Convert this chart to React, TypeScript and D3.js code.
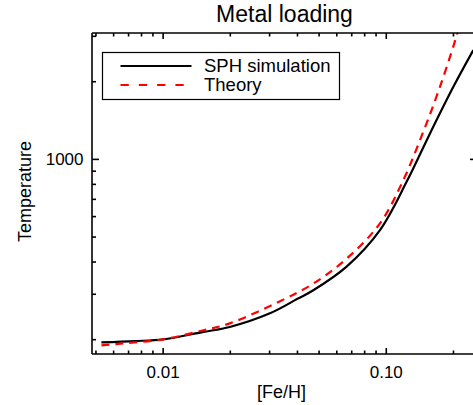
import React from "react";
import * as d3 from "d3";

// [Fe/H] and temperature
const feHSph = [0.00529, 0.0075, 0.01, 0.015, 0.0199, 0.0301, 0.04, 0.0471, 0.0664, 0.0937, 0.1235, 0.157, 0.1998, 0.2455];
const tempSph = [195.3, 197.5, 200.6, 214, 224, 253, 288, 311, 384, 532, 820, 1261, 1912, 2653];

const feHTheory = [0.00529, 0.00662, 0.01, 0.015, 0.0199, 0.0334, 0.0471, 0.0664, 0.0937, 0.1192, 0.146, 0.174, 0.207, 0.212];
const tempTheory = [190.1, 193.6, 200.6, 217, 231.3, 282, 330, 412, 565, 831, 1270, 1912, 3033, 3300];

const xMajorTicks = [0.01, 0.1];
const xMajorLabels = ["0.01", "0.10"];
const xMinorTicks = [0.005, 0.006, 0.007, 0.008, 0.009, 0.02, 0.03, 0.04, 0.05, 0.06, 0.07, 0.08, 0.09, 0.2];
const yMajorTicks = [1000];
const yMajorLabels = ["1000"];
const yMinorTicks = [200, 300, 400, 500, 600, 700, 800, 900, 2000, 3000];

const seriesNames = ["SPH simulation", "Theory"];

const W = 473, H = 405;
const L = 92, R = 477, T = 33, B = 354;
const FONT = "'Liberation Sans', Arial, Helvetica, sans-serif";

export default function App() {
  const x = d3.scaleLog().domain([0.0048, 0.255]).range([L, R]);
  const y = d3.scaleLog().domain([176, 3090]).range([B, T]);
  const line = d3.line<[number, number]>().x(d => x(d[0])).y(d => y(d[1])).curve(d3.curveCatmullRom.alpha(0.5));
  const sph = line(feHSph.map((v, i) => [v, tempSph[i]] as [number, number])) || "";
  const th = line(feHTheory.map((v, i) => [v, tempTheory[i]] as [number, number])) || "";
  const ax = { stroke: "#000", strokeWidth: 1.6 };
  return (
    <svg width={W} height={H} style={{ position: "absolute", left: 0, top: 0, background: "#fff" }} fontFamily={FONT}>
      <defs>
        <clipPath id="plot"><rect x={L} y={T} width={R - L} height={B - T} /></clipPath>
      </defs>
      <g clipPath="url(#plot)" fill="none">
        <path d={sph} stroke="#000" strokeWidth={2.2} />
        <path d={th} stroke="#ff0000" strokeWidth={2.2} strokeDasharray="8,6" />
      </g>
      {/* axes frame */}
      <line x1={L} x2={R} y1={B} y2={B} {...ax} />
      <line x1={L} x2={R} y1={T} y2={T} {...ax} />
      <line x1={L} x2={L} y1={T} y2={B} {...ax} />
      <line x1={R} x2={R} y1={T} y2={B} {...ax} />
      {xMajorTicks.map((t, i) => (
        <g key={"xm" + i}>
          <line x1={x(t)} x2={x(t)} y1={B} y2={B - 6} {...ax} />
          <line x1={x(t)} x2={x(t)} y1={T} y2={T + 6} {...ax} />
          <text x={x(t)} y={378} textAnchor="middle" fontSize={17}>{xMajorLabels[i]}</text>
        </g>
      ))}
      {xMinorTicks.map((t, i) => (
        <g key={"xn" + i}>
          <line x1={x(t)} x2={x(t)} y1={B} y2={B - 3.5} {...ax} />
          <line x1={x(t)} x2={x(t)} y1={T} y2={T + 3.5} {...ax} />
        </g>
      ))}
      {yMajorTicks.map((t, i) => (
        <g key={"ym" + i}>
          <line x1={L} x2={L + 7} y1={y(t)} y2={y(t)} {...ax} />
          <line x1={R} x2={R - 7} y1={y(t)} y2={y(t)} {...ax} />
          <text x={83.5} y={y(t) + 6} textAnchor="end" fontSize={17}>{yMajorLabels[i]}</text>
        </g>
      ))}
      {yMinorTicks.map((t, i) => (
        <g key={"yn" + i}>
          <line x1={L} x2={L + 4} y1={y(t)} y2={y(t)} {...ax} />
          <line x1={R} x2={R - 4} y1={y(t)} y2={y(t)} {...ax} />
        </g>
      ))}
      <text x={(L + R) / 2} y={22} textAnchor="middle" fontSize={23}>Metal loading</text>
      <text x={(L + R) / 2 - 3} y={398} textAnchor="middle" fontSize={18}>[Fe/H]</text>
      <text transform={`translate(31,191.5) rotate(-90)`} textAnchor="middle" fontSize={18}>Temperature</text>
      {/* legend */}
      <rect x={102.5} y={52.5} width={237} height={47} fill="#fff" stroke="#000" strokeWidth={1.2} />
      <line x1={120.5} x2={191.5} y1={66} y2={66} stroke="#000" strokeWidth={2.2} />
      <line x1={120.5} x2={191.5} y1={85} y2={85} stroke="#ff0000" strokeWidth={2.2} strokeDasharray="8.3,10" />
      <text x={204} y={72} fontSize={18.5}>{seriesNames[0]}</text>
      <text x={204} y={91} fontSize={18.5}>{seriesNames[1]}</text>
    </svg>
  );
}
